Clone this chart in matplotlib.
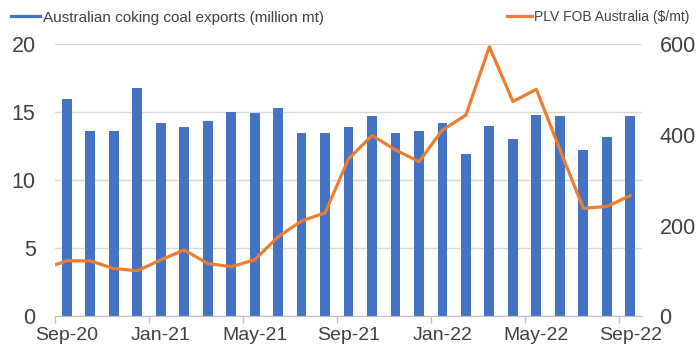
import matplotlib.pyplot as plt
from matplotlib.lines import Line2D
import numpy as np

plt.rcParams['font.family'] = ['Liberation Sans', 'DejaVu Sans']

# Monthly data, Sep-20 .. Sep-22
months = ['Sep-20', 'Oct-20', 'Nov-20', 'Dec-20', 'Jan-21', 'Feb-21', 'Mar-21', 'Apr-21',
          'May-21', 'Jun-21', 'Jul-21', 'Aug-21', 'Sep-21', 'Oct-21', 'Nov-21', 'Dec-21',
          'Jan-22', 'Feb-22', 'Mar-22', 'Apr-22', 'May-22', 'Jun-22', 'Jul-22', 'Aug-22',
          'Sep-22']
exports = [16.0, 13.6, 13.6, 16.8, 14.2, 13.9, 14.4, 15.05, 14.95, 15.3, 13.45, 13.45,
           13.9, 14.75, 13.45, 13.6, 14.2, 11.9, 14.0, 13.05, 14.8, 14.75, 12.2, 13.15,
           14.75]
# price series starts one month earlier (Aug-20)
price = [104, 122, 122, 105, 100, 124, 146, 116, 109, 124, 175, 210, 228,
         347, 399, 367, 341, 411, 444, 595, 474, 501, 368, 238, 242, 266]

BLUE = '#4472C4'
ORANGE = '#ED7D31'
TXT = '#404040'

x = np.arange(len(months))
xp = np.arange(-1, len(months))

fig = plt.figure(figsize=(6.99, 3.57), dpi=100)
ax = fig.add_axes([0.0787, 0.1148, 0.8398, 0.7606])
ax2 = ax.twinx()

ax.bar(x, exports, width=0.42, color=BLUE, zorder=2)
ax2.plot(xp, price, color=ORANGE, lw=2.3, solid_joinstyle='round', zorder=3)

ax.set_xlim(-0.5, len(months) - 0.5)
ax.set_ylim(0, 20)
ax2.set_ylim(0, 600)
ax.set_yticks([0, 5, 10, 15, 20])
ax2.set_yticks([0, 200, 400, 600])
ax.yaxis.grid(True, color='#D9D9D9', lw=1, zorder=0)
ax.set_axisbelow(True)

# category boundaries as tick marks, labels on the month centres
ax.set_xticks(np.arange(-0.5, len(months), 4))
ax.set_xticklabels([])
ax.set_xticks(x[::4], minor=True)
ax.set_xticklabels(months[::4], minor=True)
ax.tick_params(axis='x', which='major', length=5, color='#BFBFBF', width=1)
ax.tick_params(axis='x', which='minor', length=0, labelsize=14, colors=TXT, pad=8)
ax.tick_params(axis='y', length=0, labelsize=15.5, colors=TXT, pad=14)
ax2.tick_params(axis='y', length=0, labelsize=15.5, colors=TXT, pad=12.5)

for a in (ax, ax2):
    for s in ['top', 'left', 'right']:
        a.spines[s].set_visible(False)
    a.spines['bottom'].set_color('#BFBFBF')

h1 = Line2D([], [], color=BLUE, lw=2.3)
h2 = Line2D([], [], color=ORANGE, lw=2.3)
fig.legend([h1], ['Australian coking coal exports (million mt)'], loc='upper left',
           bbox_to_anchor=(0.0, 1.0), frameon=False, fontsize=11, labelcolor=TXT,
           handlelength=1.95, handletextpad=0.15, borderaxespad=0.3)
fig.legend([h2], ['PLV FOB Australia ($/mt)'], loc='upper right',
           bbox_to_anchor=(1.0, 1.0), frameon=False, fontsize=10, labelcolor=TXT,
           handlelength=1.8, handletextpad=0.15, borderaxespad=0.3)

fig.savefig('out.png', dpi=100)
